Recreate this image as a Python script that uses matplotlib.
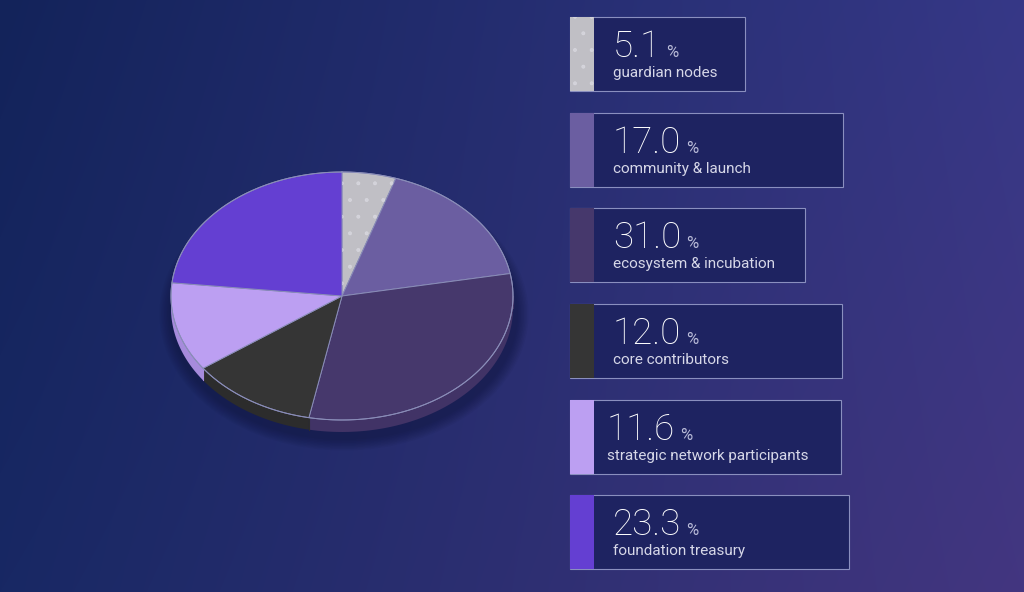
import numpy as np
import matplotlib
matplotlib.use("Agg")
import matplotlib.pyplot as plt
from matplotlib.patches import Polygon, Rectangle, Ellipse

# ---- data ----
labels = ["guardian nodes", "community & launch", "ecosystem & incubation",
          "core contributors", "strategic network participants", "foundation treasury"]
values = [5.1, 17.0, 31.0, 12.0, 11.6, 23.3]
colors = ["#c0bfc5", "#6b5ea1", "#46386c", "#353535", "#bc9ff2", "#643fd2"]
side_colors = ["#a9a8b0", "#5c5090", "#413366", "#2c2c2c", "#a68bdc", "#5534b8"]

# ---- layout ----
W, H = 1024, 592
fig = plt.figure(figsize=(W / 100, H / 100), dpi=100)
ax = fig.add_axes([0, 0, 1, 1])
ax.set_xlim(0, W)
ax.set_ylim(H, 0)
ax.axis("off")
plt.rcParams["hatch.linewidth"] = 0.4

# background gradient (bilinear between corners)
tl = np.array([19, 35, 90]); tr = np.array([54, 56, 135])
bl = np.array([24, 40, 100]); br = np.array([67, 54, 128])
u = np.linspace(0, 1, W)[None, :, None]
v = np.linspace(0, 1, H)[:, None, None]
bg = (tl * (1 - u) * (1 - v) + tr * u * (1 - v) + bl * (1 - u) * v + br * u * v) / 255.0
ax.imshow(bg, extent=(0, W, H, 0), aspect="auto", zorder=0)

# ---- pie ----
cx, cy, rx, ry, depth = 342, 296, 171, 124, 12


def pt(t, dy=0.0):
    return cx + rx * np.sin(t), cy - ry * np.cos(t) + dy


# shadow
for i in range(8):
    ax.add_patch(Ellipse((cx + 2, cy + depth + 6), 2 * rx + 6 + 3 * i, 2 * ry + 4 + 3 * i,
                         facecolor="#0a1030", edgecolor="none", alpha=0.06, zorder=1))

fracs = np.array(values) / sum(values)
bounds = np.concatenate([[0], np.cumsum(fracs)]) * 2 * np.pi

# side walls
for i in range(len(values)):
    a, b = bounds[i], bounds[i + 1]
    a2, b2 = max(a, np.pi / 2), min(b, 3 * np.pi / 2)
    if b2 > a2:
        t = np.linspace(a2, b2, 100)
        x, y = pt(t)
        xs = np.concatenate([x, x[::-1]])
        ys = np.concatenate([y, (y + depth)[::-1]])
        ax.add_patch(Polygon(np.column_stack([xs, ys]), closed=True,
                             facecolor=side_colors[i], edgecolor="none", zorder=2))
        ax.plot([x[0], x[0]], [y[0], y[0] + depth], color=side_colors[i], lw=0.8, zorder=2)

# top faces
for i in range(len(values)):
    a, b = bounds[i], bounds[i + 1]
    t = np.linspace(a, b, 200)
    x, y = pt(t)
    xs = np.concatenate([[cx], x])
    ys = np.concatenate([[cy], y])
    ax.add_patch(Polygon(np.column_stack([xs, ys]), closed=True,
                         facecolor=colors[i], edgecolor="#8a8db8", lw=0.7, zorder=3))
    if i == 0:
        ax.add_patch(Polygon(np.column_stack([xs, ys]), closed=True, fill=False,
                             hatch=".", edgecolor="#e6e6ee", lw=0, alpha=0.5, zorder=4))

# rim line
t = np.linspace(0, 2 * np.pi, 400)
x, y = pt(t)
ax.plot(x, y, color="#8a8db8", lw=0.7, zorder=5)

# ---- legend boxes ----
box_x = 570
box_top = [17, 113, 208, 304, 400, 495]
box_w = [175, 273, 235, 272, 271, 279]
box_h = 74
sw_w = 24
text_x = [613, 613, 613, 613, 607, 613]

fig.canvas.draw()
r = fig.canvas.get_renderer()
for i in range(len(values)):
    y0 = box_top[i]
    ax.add_patch(Rectangle((box_x, y0), box_w[i], box_h, facecolor="#1e2361",
                           edgecolor="#8a8fbf", lw=0.8, zorder=3))
    ax.add_patch(Rectangle((box_x, y0), sw_w, box_h, facecolor=colors[i],
                           edgecolor="none", zorder=4))
    if i == 0:
        ax.add_patch(Rectangle((box_x, y0), sw_w, box_h, fill=False, hatch=".",
                               edgecolor="#e6e6ee", lw=0, alpha=0.5, zorder=5))
    num = ax.text(text_x[i], y0 + 40, f"{values[i]:.1f}", color="white",
                  fontsize=26.5, family=["Roboto", "DejaVu Sans"], fontweight="light",
                  va="baseline", ha="left", zorder=6)
    bb = num.get_window_extent(renderer=r)
    xr = ax.transData.inverted().transform((bb.x1, bb.y0))[0]
    ax.text(xr + 5, y0 + 40, "%", color="#b9bbd8", fontsize=12,
            family=["Roboto", "DejaVu Sans"], va="baseline", ha="left", zorder=6)
    ax.text(text_x[i], y0 + 60, labels[i], color="#d6d7e8", fontsize=11,
            family=["Roboto", "DejaVu Sans"], va="baseline", ha="left", zorder=6)

fig.savefig("out.png", dpi=100)
